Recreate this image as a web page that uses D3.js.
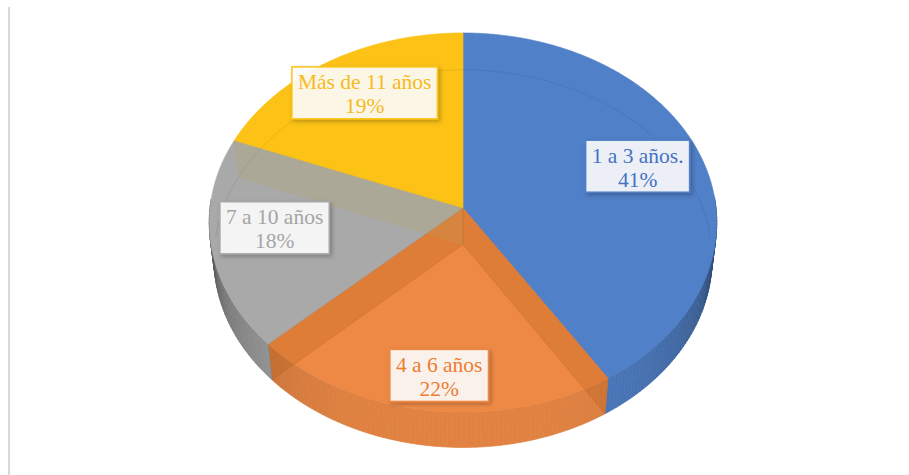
<!DOCTYPE html>
<html>
<head>
<meta charset="utf-8">
<script src="https://cdn.jsdelivr.net/npm/d3@7"></script>
<style>
  html, body { margin: 0; padding: 0; background: #ffffff; }
  svg { display: block; }
  .lbl { font-family: "Liberation Serif", "Times New Roman", "DejaVu Serif", serif; font-size: 21.5px; }
</style>
</head>
<body>
<div id="chart"></div>
<script>
// ---- data ----
const categories = ["1 a 3 años.", "4 a 6 años", "7 a 10 años", "Más de 11 años"];
const values = [41, 22, 18, 19];
const percentLabels = ["41%", "22%", "18%", "19%"];

// ---- styles ----
const colors = ["#5080C8", "#ED8945", "#A9A9A9", "#FCC216"];
const textColors = ["#4472C4", "#ED7D31", "#A5A5A5", "#F7BA1E"];
const innerWallTone = ["#2F528F", "#A8500F", "#B8A55A", "#BF9000"];

// ---- layout ----
const W = 909, H = 475;
const cam = { L: 8.70, sa: 0.745, ca: 0.667, f: 2201, depth: 0.22 };
const centerX = 463, centerY = 208;
const labelRadius = [0.73, 0.85, 0.75, 0.75];
const labelShift = [[0, -4], [5, -2.5], [0, -7], [3.5, -3.5]];

const sx = d3.scaleLinear().domain([0, 1]).range([centerX, centerX + cam.f]);
const sy = d3.scaleLinear().domain([0, 1]).range([centerY, centerY - cam.f]);

function proj(theta, r, h) {
  const X = r * Math.sin(theta), Zf = r * Math.cos(theta);
  const dep = cam.L - h * cam.sa + Zf * cam.ca;
  const up = h * cam.ca + Zf * cam.sa;
  return [sx(X / dep), sy(up / dep)];
}

const svg = d3.select("#chart").append("svg").attr("width", W).attr("height", H);
const defs = svg.append("defs");
const flt = defs.append("filter").attr("id", "shadow").attr("x", "-20%").attr("y", "-20%").attr("width", "140%").attr("height", "150%");
flt.append("feDropShadow").attr("dx", 2).attr("dy", 2).attr("stdDeviation", 2).attr("flood-color", "#000").attr("flood-opacity", 0.28);

// left border line
svg.append("line").attr("x1", 9).attr("x2", 9).attr("y1", 7).attr("y2", H)
  .attr("stroke", "#D9D9D9").attr("stroke-width", 2);

const pie = d3.pie().sort(null).value(d => d).startAngle(0).endAngle(2 * Math.PI);
const arcs = pie(values);
const line = d3.line();
const D = -cam.depth;

function area(pts) {
  let s = 0;
  for (let i = 0; i < pts.length; i++) {
    const a = pts[i], b = pts[(i + 1) % pts.length];
    s += a[0] * b[1] - b[0] * a[1];
  }
  return s;
}

const gFront = svg.append("g");
const gTop = svg.append("g");
const gInner = svg.append("g");
const gLab = svg.append("g");

// outer (front) wall segments
function wallColor(i, t) {
  const c = Math.abs(Math.cos(t));
  const m = 0.05 + 0.5 * Math.pow(1 - c, 1.5);
  return d3.interpolateRgb(colors[i], "#000")(m);
}
arcs.forEach((a, i) => {
  const n = Math.max(2, Math.ceil((a.endAngle - a.startAngle) / (Math.PI / 180)));
  for (let k = 0; k < n; k++) {
    const t0 = a.startAngle + (a.endAngle - a.startAngle) * k / n;
    const t1 = a.startAngle + (a.endAngle - a.startAngle) * (k + 1) / n;
    const tm = (t0 + t1) / 2;
    if (Math.cos(tm) > 0.05) continue;
    const pts = [proj(t0, 1, 0), proj(t1, 1, 0), proj(t1, 1, D), proj(t0, 1, D)];
    const c = wallColor(i, tm);
    gFront.append("path").attr("d", line(pts) + "Z").attr("fill", c).attr("stroke", c).attr("stroke-width", 0.7);
  }
});

// top faces
const apT = proj(0, 0, 0), apB = proj(0, 0, D);
arcs.forEach((a, i) => {
  const pts = [apT];
  const n = Math.ceil((a.endAngle - a.startAngle) / (Math.PI / 360));
  for (let k = 0; k <= n; k++) {
    const t = a.startAngle + (a.endAngle - a.startAngle) * k / n;
    pts.push(proj(t, 1, 0));
  }
  gTop.append("path").attr("d", line(pts) + "Z")
    .attr("fill", colors[i])
    .attr("stroke", colors[i]).attr("stroke-width", 0.6);
});

// faint back rim of the bottom face (seen through the top)
const backPts = d3.range(-88, 89, 2).map(dg => proj(dg * Math.PI / 180, 1, D));
gInner.append("path").attr("d", line(backPts)).attr("fill", "none")
  .attr("stroke", "#000").attr("stroke-opacity", 0.08).attr("stroke-width", 1);

// interior radial walls seen through each slice's own translucent top
arcs.forEach((a, i) => {
  const ws = [
    [apT, proj(a.startAngle, 1, 0), proj(a.startAngle, 1, D), apB],
    [apB, proj(a.endAngle, 1, D), proj(a.endAngle, 1, 0), apT]
  ];
  ws.forEach(p => {
    if (area(p) > 1) {
      gInner.append("path").attr("d", line(p) + "Z")
        .attr("fill", innerWallTone[i]).attr("fill-opacity", 0.22)
        .attr("stroke", innerWallTone[i]).attr("stroke-opacity", 0.3).attr("stroke-width", 0.6);
    }
  });
});

// labels
arcs.forEach((a, i) => {
  const mid = (a.startAngle + a.endAngle) / 2;
  const p = proj(mid, labelRadius[i], 0);
  const lx = p[0] + labelShift[i][0], ly = p[1] + labelShift[i][1];
  const g = gLab.append("g");
  const rect = g.append("rect");
  const t1 = g.append("text").attr("class", "lbl").attr("x", lx).attr("y", ly - 3.5).text(categories[i]);
  const t2 = g.append("text").attr("class", "lbl").attr("x", lx).attr("y", ly + 20.5).text(percentLabels[i]);
  [t1, t2].forEach(t => t.attr("text-anchor", "middle").attr("fill", textColors[i]));
  const w = Math.max(t1.node().getComputedTextLength(), t2.node().getComputedTextLength()) + 12;
  const h = 52;
  rect.attr("x", lx - w / 2).attr("y", ly - h / 2).attr("width", w).attr("height", h)
    .attr("fill", "#ffffff").attr("fill-opacity", 0.88)
    .attr("stroke", colors[i]).attr("stroke-width", 1.5)
    .attr("filter", "url(#shadow)");
});
</script>
</body>
</html>
